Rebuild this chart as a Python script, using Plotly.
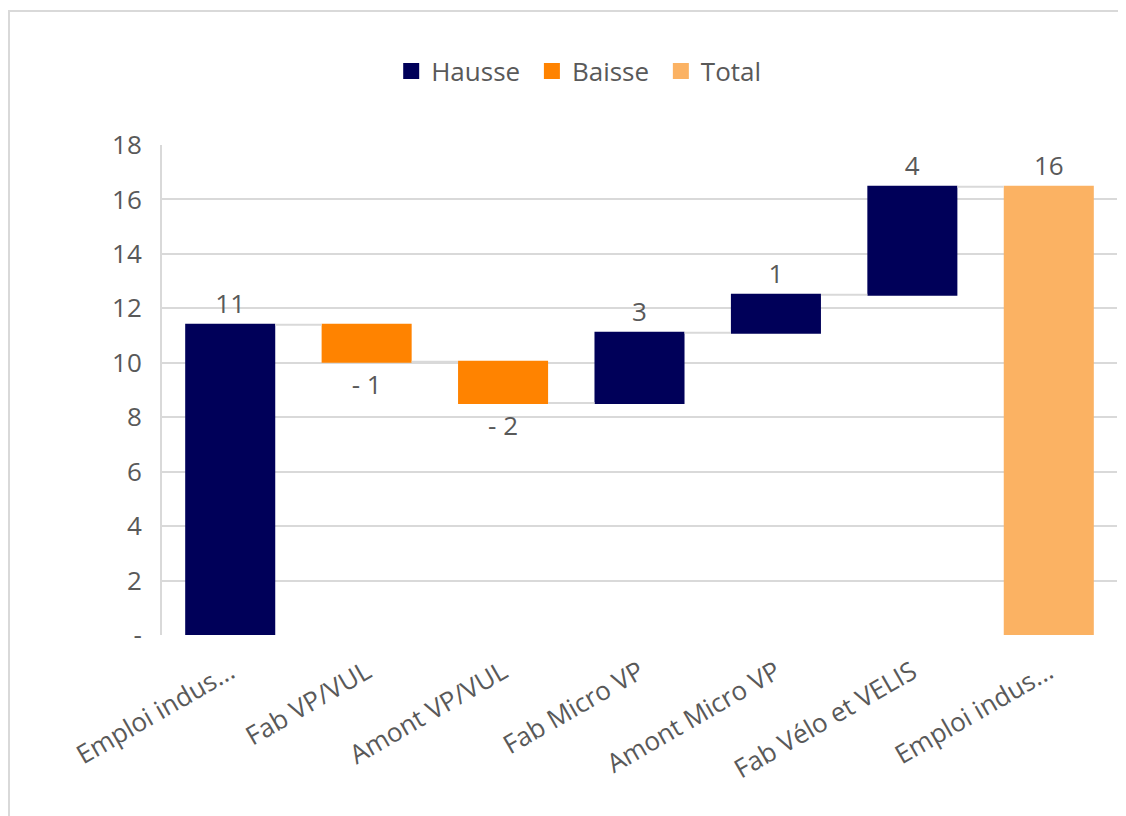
import plotly.graph_objects as go

categories = ["Emploi indus...", "Fab VP/VUL", "Amont VP/VUL", "Fab Micro VP",
              "Amont Micro VP", "Fab Vélo et VELIS", "Emploi indus..."]
values = [11.40, -1.36, -1.52, 2.58, 1.40, 3.97, 16.47]
measures = ["relative", "relative", "relative", "relative", "relative", "relative", "total"]
y_ticks = [0, 2, 4, 6, 8, 10, 12, 14, 16, 18]
y_tick_labels = ["-", "2", "4", "6", "8", "10", "12", "14", "16", "18"]
legend_names = ["Hausse", "Baisse", "Total"]

C_UP = "#000059"
C_DOWN = "#FF8300"
C_TOT = "#FBB263"
FONT = "Open Sans"
GREY = "#595959"
FS = 26

W, H = 1118, 808
L, R, T, B = 154, 9, 137, 181
PW, PH = W - L - R, H - T - B


def fmt(v):
    n = int(round(abs(v)))
    return f"- {n}" if v < 0 else f"{n}"


labels = [fmt(v) for v in values]
xpos = list(range(len(categories)))

fig = go.Figure()
fig.add_trace(go.Waterfall(
    x=xpos, y=values, measure=measures,
    text=labels, textposition="outside", texttemplate="%{text}",
    textfont=dict(family=FONT, size=FS, color=GREY),
    increasing=dict(marker=dict(color=C_UP)),
    decreasing=dict(marker=dict(color=C_DOWN)),
    totals=dict(marker=dict(color=C_TOT)),
    connector=dict(line=dict(color="#d9d9d9", width=2)),
    width=0.66, showlegend=False, cliponaxis=False,
))
for name, col in zip(legend_names, [C_UP, C_DOWN, C_TOT]):
    fig.add_trace(go.Scatter(x=[None], y=[None], name=name + " ", mode="markers",
                             marker=dict(symbol="square", size=22, color=col),
                             showlegend=True))

fig.update_layout(
    width=W, height=H,
    margin=dict(l=L, r=R, t=T, b=B),
    paper_bgcolor="white", plot_bgcolor="white",
    font=dict(family=FONT, size=FS, color=GREY),
    legend=dict(orientation="h", x=0.44, xanchor="center", y=1 + 74 / PH, yanchor="middle",
                font=dict(family=FONT, size=FS, color=GREY), itemwidth=30),
    xaxis=dict(tickmode="array", tickvals=xpos, ticktext=categories, tickangle=-30,
               range=[-0.5, len(categories) - 0.5], showgrid=False, zeroline=False,
               ticklabelstandoff=16,
               tickfont=dict(family=FONT, size=FS, color=GREY)),
    yaxis=dict(range=[0, 18], tickvals=y_ticks, ticktext=y_tick_labels,
               showgrid=True, gridcolor="#d9d9d9", gridwidth=2, zeroline=False,
               showline=True, linecolor="#d9d9d9", linewidth=2,
               ticklabelstandoff=13,
               tickfont=dict(family=FONT, size=FS, color=GREY)),
    shapes=[dict(type="rect", xref="paper", yref="paper",
                 x0=-(L - 1) / PW, x1=1 + 30 / PW, y0=-(B + 30) / PH, y1=1 + (T - 3) / PH,
                 line=dict(color="#d9d9d9", width=2), fillcolor="rgba(0,0,0,0)", layer="below")],
)

fig.write_html("out.html")
